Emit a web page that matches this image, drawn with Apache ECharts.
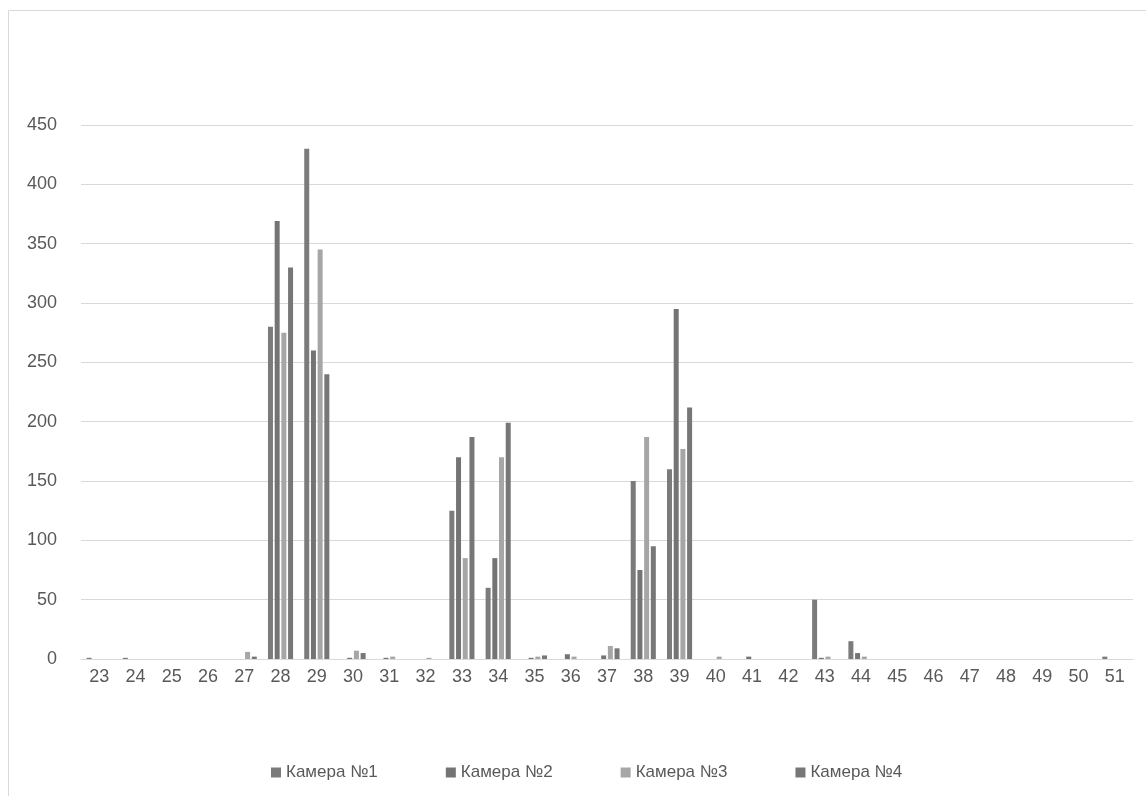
<!DOCTYPE html>
<html><head><meta charset="utf-8">
<script src="https://cdn.jsdelivr.net/npm/echarts@6/dist/echarts.min.js"></script>
<style>html,body{margin:0;padding:0;background:#fff}#c{width:1146px;height:796px}</style>
</head><body><div id="c"></div>
<script>
const categories = ['23','24','25','26','27','28','29','30','31','32','33','34','35','36','37','38','39','40','41','42','43','44','45','46','47','48','49','50','51'];
const seriesNames = ['Камера №1','Камера №2','Камера №3','Камера №4'];
const cam1 = [1,1,0,0,0,280,430,0,0,0,125,60,0,0,0,150,160,0,0,0,50,15,0,0,0,0,0,0,2];
const cam2 = [0,0,0,0,0,369,260,1,1,0,170,85,1,4,3,75,295,0,2,0,1,5,0,0,0,0,0,0,0];
const cam3 = [0,0,0,0,6,275,345,7,2,1,85,170,2,2,11,187,177,2,0,0,2,2,0,0,0,0,0,0,0];
const cam4 = [0,0,0,0,2,330,240,5,0,0,187,199,3,0,9,95,212,0,0,0,0,0,0,0,0,0,0,0,0];
const colors = ['#7b7b7b','#747474','#a6a6a6','#777777'];
const font = 'Liberation Sans';
const chart = echarts.init(document.getElementById('c'), null, {renderer:'canvas'});
const data = [cam1, cam2, cam3, cam4];
chart.setOption({
  animation: false,
  textStyle: {fontFamily: font},
  graphic: [{type:'rect', shape:{x:8.5,y:10.5,width:1300,height:900}, style:{fill:'none', stroke:'#d9d9d9', lineWidth:1}, silent:true}],
  grid: {left: 81, right: 13, top: 125, bottom: 137, containLabel: false},
  legend: {
    bottom: 10, left: 266, itemWidth: 10, itemHeight: 10, itemGap: 68, icon: 'rect',
    textStyle: {color: '#595959', fontSize: 17, fontFamily: font}
  },
  xAxis: {
    type: 'category', data: categories,
    axisLine: {lineStyle: {color: '#d9d9d9', width: 1}},
    axisTick: {show: false},
    axisLabel: {color: '#595959', fontSize: 18, margin: 9, interval: 0}
  },
  yAxis: {
    type: 'value', min: 0, max: 450, interval: 50,
    axisLine: {show: false}, axisTick: {show: false},
    splitLine: {lineStyle: {color: '#d9d9d9', width: 1}},
    axisLabel: {color: '#595959', fontSize: 18, margin: 24}
  },
  series: seriesNames.map((n, i) => ({
    name: n, type: 'bar', data: data[i], barWidth: 5, barGap: '34%',
    itemStyle: {color: colors[i]}
  }))
});
</script></body></html>
